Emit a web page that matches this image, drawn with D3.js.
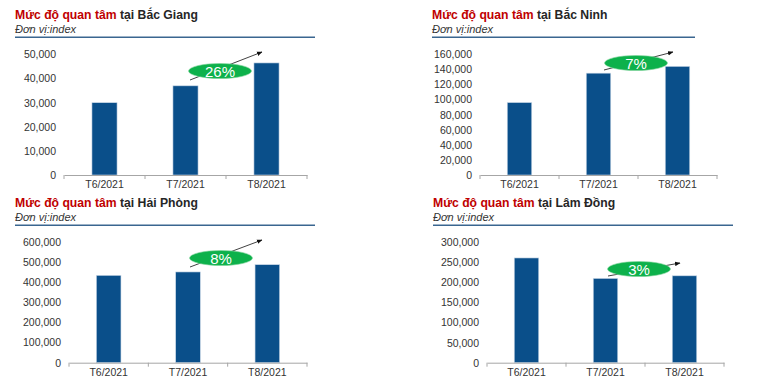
<!DOCTYPE html>
<html>
<head>
<meta charset="utf-8">
<script src="https://cdn.jsdelivr.net/npm/d3@7"></script>
<style>
    body { margin: 0; background: #fff; }
    svg { display: block; font-family: "Liberation Sans", Arial, sans-serif; }
</style>
</head>
<body>
<svg width="783" height="386"></svg>
<script>
// Données
const thang = ["T6/2021", "T7/2021", "T8/2021"];
const tinh = ["Bắc Giang", "Bắc Ninh", "Hải Phòng", "Lâm Đồng"];
const bacGiang = [30000, 37000, 46500];
const bacNinh = [96000, 135000, 144000];
const haiPhong = [433000, 450000, 486000];
const lamDong = [261000, 210000, 216500];
const tangTruong = ["26%", "7%", "8%", "3%"];
const yMax = [50000, 160000, 600000, 300000];
const yStep = [10000, 20000, 100000, 50000];

const series = [bacGiang, bacNinh, haiPhong, lamDong];

// Position de chaque panneau (mise en page)
const panneaux = [
    { tx: 15, ty: 19, lx2: 315, ax0: 64, ax1: 307, y0: 175, yTop: 54.5,
      ell: [220, 71], fl: [190, 80, 262, 52] },
    { tx: 432, ty: 19, lx2: 695, ax0: 480, ax1: 717, y0: 175, yTop: 54.3,
      ell: [636, 63], fl: [604, 70, 673, 52] },
    { tx: 15, ty: 207, lx2: 315, ax0: 69, ax1: 307, y0: 362.7, yTop: 241.7,
      ell: [221, 258], fl: [190, 267, 262, 240] },
    { tx: 433, ty: 207, lx2: 733, ax0: 487, ax1: 724, y0: 362.7, yTop: 242.3,
      ell: [639, 269], fl: [608, 276, 680, 263] }
];

const svg = d3.select("svg");

// Définition de la flèche
svg.append("defs").append("marker")
    .attr("id", "fleche")
    .attr("viewBox", "0 0 10 10")
    .attr("refX", 9).attr("refY", 5)
    .attr("markerWidth", 7).attr("markerHeight", 7)
    .attr("orient", "auto")
    .append("path")
    .attr("d", "M0,1 L10,5 L0,9 Z")
    .attr("fill", "#111");

const fmt = d3.format(",");

panneaux.forEach((p, i) => {
    const g = svg.append("g");

    // Titre
    const titre = g.append("text")
        .attr("x", p.tx).attr("y", p.ty)
        .style("font-size", "12.2px")
        .style("font-weight", "bold");
    titre.append("tspan").attr("fill", "#c00000").text("Mức độ quan tâm ");
    titre.append("tspan").attr("fill", "#262626").text("tại " + tinh[i]);

    g.append("text")
        .attr("x", p.tx).attr("y", p.ty + 14)
        .style("font-size", "11px")
        .style("font-style", "italic")
        .attr("fill", "#333")
        .text("Đơn vị:index");

    g.append("line")
        .attr("x1", p.tx).attr("x2", p.lx2)
        .attr("y1", p.ty + 18.3).attr("y2", p.ty + 18.3)
        .attr("stroke", "#3a6690")
        .attr("stroke-width", 1.5);

    // Échelles
    const xScale = d3.scaleBand()
        .domain(thang)
        .range([p.ax0, p.ax1])
        .paddingInner(0.69)
        .paddingOuter(0.345);

    const yScale = d3.scaleLinear()
        .domain([0, yMax[i]])
        .range([p.y0, p.yTop]);

    // Axe y (étiquettes seulement)
    const yAxis = g.append("g")
        .attr("transform", `translate(${p.ax0 - 2},0)`)
        .call(d3.axisLeft(yScale)
            .tickValues(d3.range(0, yMax[i] + 1, yStep[i]))
            .tickFormat(fmt)
            .tickSize(0)
            .tickPadding(6));
    yAxis.select(".domain").remove();
    yAxis.selectAll("text")
        .attr("fill", "#333")
        .style("font-size", "10.5px")
        .style("font-family", "Liberation Sans, Arial, sans-serif");

    // Barres
    g.selectAll(".barre")
        .data(series[i])
        .enter()
        .append("rect")
        .attr("class", "barre")
        .attr("x", (d, j) => xScale(thang[j]))
        .attr("y", d => yScale(d))
        .attr("width", xScale.bandwidth())
        .attr("height", d => p.y0 - yScale(d))
        .attr("fill", "#0a4f8a")
        .attr("stroke", "#c9d7e6")
        .attr("stroke-width", 0.6);

    // Axe x
    const xAxis = g.append("g")
        .attr("transform", `translate(0,${p.y0})`)
        .call(d3.axisBottom(xScale).tickSize(0).tickPadding(6));
    xAxis.select(".domain").attr("stroke", "#a6a6a6");
    xAxis.selectAll("text")
        .attr("fill", "#333")
        .style("font-size", "10.5px")
        .style("font-family", "Liberation Sans, Arial, sans-serif");

    // Graduations entre les catégories
    const pas = xScale.step();
    g.selectAll(".grad")
        .data(d3.range(thang.length + 1))
        .enter()
        .append("line")
        .attr("x1", k => p.ax0 + k * pas).attr("x2", k => p.ax0 + k * pas)
        .attr("y1", p.y0).attr("y2", p.y0 + 4)
        .attr("stroke", "#a6a6a6");

    // Flèche de croissance + ellipse
    g.append("line")
        .attr("x1", p.fl[0]).attr("y1", p.fl[1])
        .attr("x2", p.fl[2]).attr("y2", p.fl[3])
        .attr("stroke", "#111")
        .attr("stroke-width", 0.8)
        .attr("marker-end", "url(#fleche)");

    g.append("ellipse")
        .attr("cx", p.ell[0]).attr("cy", p.ell[1])
        .attr("rx", 31.5).attr("ry", 7.5)
        .attr("fill", "#0db14b")
        .attr("stroke", "#7fd39a")
        .attr("stroke-width", 0.6);

    g.append("text")
        .attr("x", p.ell[0]).attr("y", p.ell[1] + 5.5)
        .attr("text-anchor", "middle")
        .attr("fill", "#fff")
        .style("font-size", "15px")
        .text(tangTruong[i]);
});
</script>
</body>
</html>
